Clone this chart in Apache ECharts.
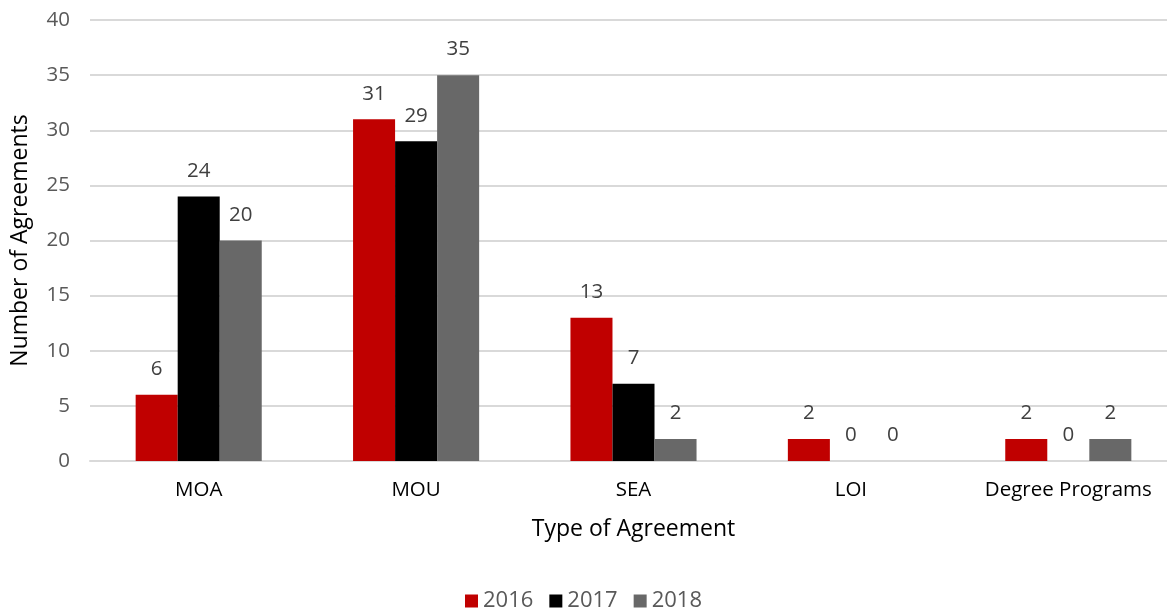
<!DOCTYPE html>
<html>
<head>
<meta charset="utf-8">
<script src="https://cdn.jsdelivr.net/npm/echarts@6/dist/echarts.min.js"></script>
<style>
html,body{margin:0;padding:0;background:#fff;}
#chart{width:1167px;height:612px;}
</style>
</head>
<body>
<div id="chart"></div>
<script>
const categories = ['MOA', 'MOU', 'SEA', 'LOI', 'Degree Programs'];
const seriesNames = ['2016', '2017', '2018'];
const values2016 = [6, 31, 13, 2, 2];
const values2017 = [24, 29, 7, 0, 0];
const values2018 = [20, 35, 2, 0, 2];
const colors = ['#C00000', '#000000', '#686868'];
const yTicks = { min: 0, max: 40, interval: 5 };

const FONT = '"Open Sans", Lato, sans-serif';
const chart = echarts.init(document.getElementById('chart'));
const allValues = [values2016, values2017, values2018];
chart.setOption({
  animation: false,
  textStyle: { fontFamily: FONT },
  grid: { left: 90, top: 20, width: 1087, height: 441, containLabel: false, outerBoundsMode: 'none' },
  legend: {
    data: seriesNames,
    bottom: -5,
    left: 'center',
    itemWidth: 13, itemHeight: 13, itemGap: 16,
    icon: 'rect',
    textStyle: { fontFamily: FONT, fontSize: 22, color: '#595959' }
  },
  xAxis: {
    type: 'category',
    data: categories,
    name: 'Type of Agreement',
    nameLocation: 'middle',
    nameGap: 57,
    nameTextStyle: { fontFamily: FONT, fontSize: 23, color: '#000' },
    axisLine: { lineStyle: { color: '#D9D9D9', width: 2 } },
    axisTick: { show: false },
    axisLabel: { fontFamily: FONT, fontSize: 20.5, color: '#000', margin: 19 }
  },
  yAxis: {
    type: 'value',
    min: yTicks.min, max: yTicks.max, interval: yTicks.interval,
    name: 'Number of Agreements',
    nameLocation: 'middle',
    nameGap: 58,
    nameTextStyle: { fontFamily: FONT, fontSize: 23, color: '#000' },
    axisLine: { show: false },
    axisTick: { show: false },
    axisLabel: { fontFamily: FONT, fontSize: 20.5, color: '#595959', margin: 20 },
    splitLine: { lineStyle: { color: '#D9D9D9', width: 2 } }
  },
  series: seriesNames.map((n, i) => ({
    name: n,
    type: 'bar',
    data: allValues[i],
    itemStyle: { color: colors[i] },
    barGap: '0%',
    barCategoryGap: '42%',
    label: { show: true, position: 'top', distance: 15, fontFamily: FONT, fontSize: 20.5, color: '#404040' }
  }))
});
</script>
</body>
</html>
